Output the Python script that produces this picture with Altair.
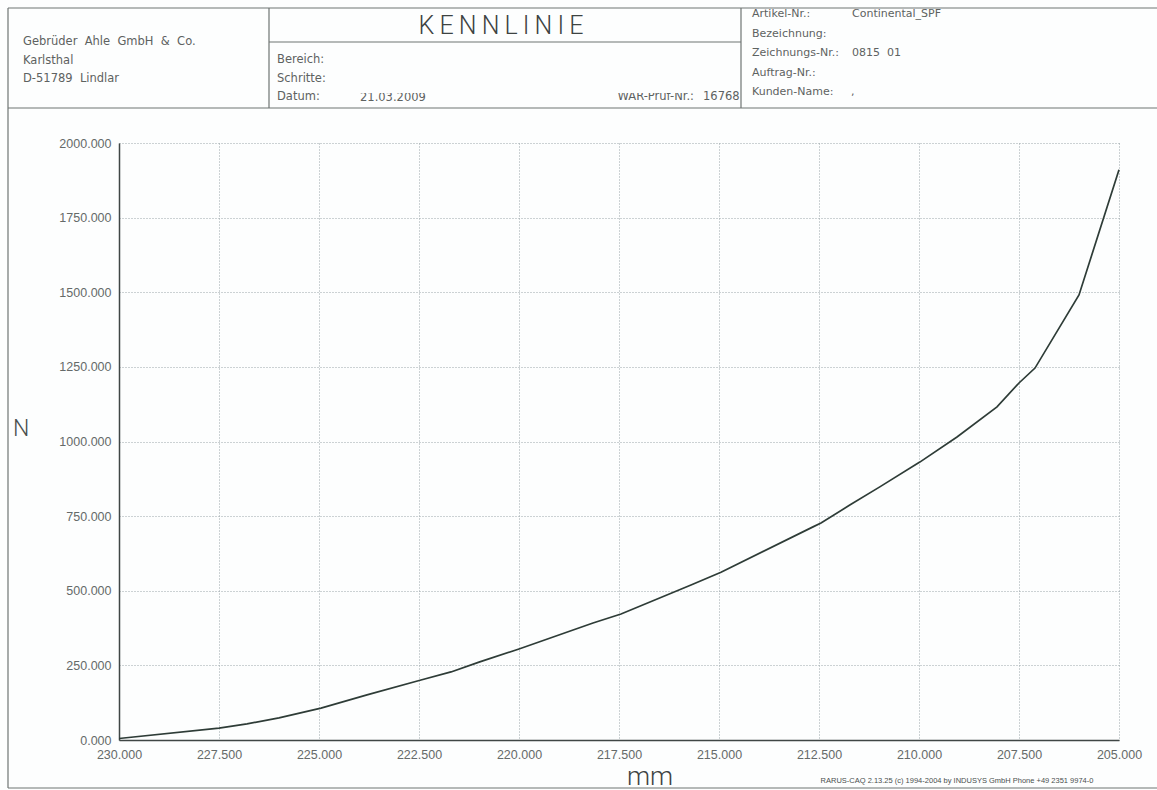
import altair as alt
import pandas as pd

# Measured spring characteristic: travel (mm) vs. force (N)
travel_mm = [230.0, 227.5, 226.8, 226.0, 224.95, 223.8, 222.45, 221.7, 221.0, 220.0,
             218.15, 217.45, 215.7, 214.95, 212.65, 212.45, 211.73, 210.98, 209.98,
             209.05, 208.05, 207.5, 207.1, 206.0, 205.0]
force_n = [5, 40, 54, 74, 107, 151, 201, 228, 261, 305,
           392, 422, 519, 562, 714, 727, 787, 848, 931,
           1015, 1116, 1196, 1246, 1491, 1910]

x_ticks = [230.0, 227.5, 225.0, 222.5, 220.0, 217.5, 215.0, 212.5, 210.0, 207.5, 205.0]
y_ticks = [0, 250, 500, 750, 1000, 1250, 1500, 1750, 2000]

df = pd.DataFrame({"mm": travel_mm, "N": force_n, "idx": range(len(travel_mm))})

# page geometry: plot origin sits at (OX, OY) on the sheet
OX, OY = 119, 143
W, H = 1000, 597
INK = "#5d6261"
FRAME = "#6f7472"
HEAD_FONT = "DejaVu Sans"
AX_FONT = "Liberation Sans"
THIN_FONT = "Roboto"
NB = "\u00a0"

blank = alt.Data(values=[{"k": 0}])


def at(x, y):
    return dict(x=alt.value(x - OX), y=alt.value(y - OY))


def label(text, x, y, size=11.5, align="left", font=HEAD_FONT, color=INK,
          baseline="middle", weight="normal"):
    return alt.Chart(blank).mark_text(
        text=text, align=align, baseline=baseline, fontSize=size, font=font,
        color=color, fontWeight=weight
    ).encode(**at(x, y))


def hline(x1, x2, y, width=1.2, color=FRAME):
    return alt.Chart(blank).mark_rule(color=color, strokeWidth=width).encode(
        x=alt.value(x1 - OX), x2=alt.value(x2 - OX), y=alt.value(y - OY)
    )


def vline(x, y1, y2, width=1.2, color=FRAME):
    return alt.Chart(blank).mark_rule(color=color, strokeWidth=width).encode(
        x=alt.value(x - OX), y=alt.value(y1 - OY), y2=alt.value(y2 - OY)
    )


def box(x1, x2, y1, y2, fill="#fdfefe"):
    return alt.Chart(blank).mark_rect(color=fill).encode(
        x=alt.value(x1 - OX), x2=alt.value(x2 - OX), y=alt.value(y1 - OY), y2=alt.value(y2 - OY)
    )


curve = alt.Chart(df).mark_line(color="#2e3c37", strokeWidth=1.7).encode(
    x=alt.X(
        "mm:Q",
        scale=alt.Scale(domain=[230, 205], nice=False, zero=False),
        axis=alt.Axis(values=x_ticks, format=".3f", title=None, labelPadding=8),
    ),
    y=alt.Y(
        "N:Q",
        scale=alt.Scale(domain=[0, 2000], nice=False),
        axis=alt.Axis(values=y_ticks, format=".3f", title=None, labelPadding=8),
    ),
    order=alt.Order("idx:Q"),
)

decor = [
    # sheet frame and title block
    hline(8, 1157, 8),
    vline(8, 8, 788),
    hline(8, 1157, 788),
    hline(8, 1157, 108),
    vline(269, 8, 108),
    vline(741, 8, 108),
    hline(269, 741, 42),
    # company block
    label(f"Gebrüder{NB} Ahle{NB} GmbH{NB} &{NB} Co.", 23, 42),
    label("Karlsthal", 23, 61),
    label(f"D-51789{NB} Lindlar", 23, 79),
    # centre block
    label("K\u2009E\u2009N\u2009N\u2009L\u2009I\u2009N\u2009I\u2009E", 501, 26, size=25,
          align="center", font=THIN_FONT, color="#3d4342", weight=300),
    label("Bereich:", 277, 60),
    label("Schritte:", 277, 79),
    label("Datum:", 277, 97),
    label("21.03.2009", 360, 98),
    label("WAR-Prüf-Nr.:", 694, 97, align="right"),
    box(345, 699, 44, 93),
    label("16768", 703, 97),
    # article block
    label("Artikel-Nr.:", 752, 14, size=11),
    label("Continental_SPF", 852, 14, size=11),
    label("Bezeichnung:", 752, 34, size=11),
    label("Zeichnungs-Nr.:", 752, 53, size=11),
    label(f"0815{NB} 01", 852, 53, size=11),
    label("Auftrag-Nr.:", 752, 73, size=11),
    label("Kunden-Name:", 752, 92, size=11),
    label(",", 851, 92, size=11),
    # axis names
    label("N", 13, 436, size=23, font=THIN_FONT, color="#4a504f", baseline="alphabetic",
          weight=300),
    label("mm", 650, 785, size=26, align="center", font=THIN_FONT, color="#3d4342",
          baseline="alphabetic", weight=300),
    # footer
    label("RARUS-CAQ 2.13.25 (c) 1994-2004 by INDUSYS GmbH Phone +49 2351 9974-0",
          957, 781, size=7.5, align="center", font=AX_FONT, color="#4a4f4e"),
]

chart = (
    alt.layer(curve, *decor)
    .properties(
        width=W,
        height=H,
        autosize=alt.AutoSizeParams(type="none"),
        padding={"left": OX, "top": OY, "right": 1157 - OX - W, "bottom": 790 - OY - H},
        background="#fdfefe",
    )
    .configure_view(stroke=None)
    .configure_axis(
        labelFont=AX_FONT,
        labelFontSize=12.5,
        labelColor="#656a69",
        labelFlush=False,
        labelOverlap=False,
        ticks=False,
        domainColor="#3f4645",
        domainWidth=1.5,
        grid=True,
        gridColor="#9aa6ab",
        gridDash=[1, 2],
        gridWidth=1,
    )
)

chart.save("out.html", embed_options={"renderer": "svg", "actions": False})
